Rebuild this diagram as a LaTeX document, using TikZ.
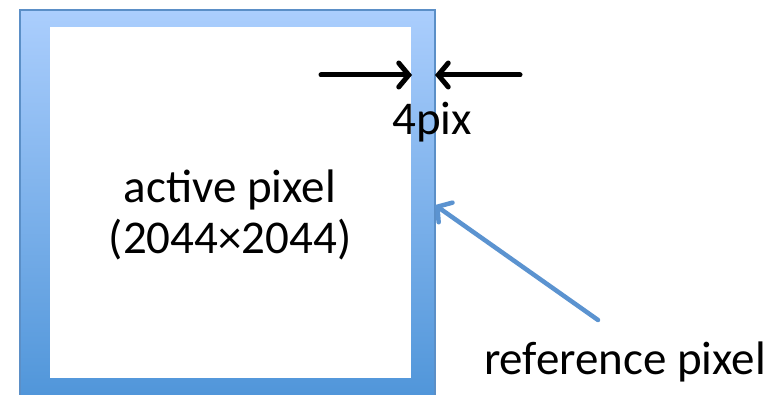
\documentclass[tikz,border=0pt]{standalone}
\usepackage{fontspec}
\setmainfont{Carlito}
\usetikzlibrary{arrows.meta}
\definecolor{fondoalto}{HTML}{ABCEFD}
\definecolor{fondobasso}{HTML}{4F95D9}
\definecolor{bordo}{HTML}{5B8FC7}
\definecolor{freccia}{HTML}{5B93D0}
\tikzset{
  cornice/.style = {rectangle, draw=bordo, line width=1.5pt, top color=fondoalto, bottom color=fondobasso, minimum width=415pt, minimum height=392pt, inner sep=0},
  attivo/.style  = {rectangle, fill=white, minimum width=361.5pt, minimum height=351pt, inner sep=0},
  quota/.style   = {line width=5pt, line cap=round, -{Straight Barb[length=10pt, width=24pt, line cap=round]}},
  rif/.style     = {line width=4.5pt, draw=freccia, line cap=round, -{Straight Barb[length=10pt, width=24pt, line cap=round]}},
  et/.style      = {font=\fontsize{47}{51}\selectfont, inner sep=0}
}

\begin{document}
\begin{tikzpicture}[x=1pt, y=-1pt]
  \useasboundingbox (0,0) rectangle (777,395);
  \clip (0,0) rectangle (777,395);
  \node[cornice] (R) at (227.5,206) {};
  \node[attivo]  (A) at (230.25,202.5) {};
  \node[et, align=center] (T) at (230,215) {active pixel\\(2044\texttimes2044)};
  % quota del bordo
  \coordinate (q1) at (321,75);  \coordinate (q2) at (412,75);
  \coordinate (q3) at (520,75);  \coordinate (q4) at (435,75);
  \draw[quota] (q1) -- (q2);
  \draw[quota] (q3) -- (q4);
  \node[et] (P) at (432,122) {4pix};
  % pixel di riferimento
  \node[et] (L) at (625,362) {reference pixel};
  \coordinate (r1) at (598,320); \coordinate (r2) at (435,205);
  \draw[rif] (r1) -- (r2);
\end{tikzpicture}
\end{document}
